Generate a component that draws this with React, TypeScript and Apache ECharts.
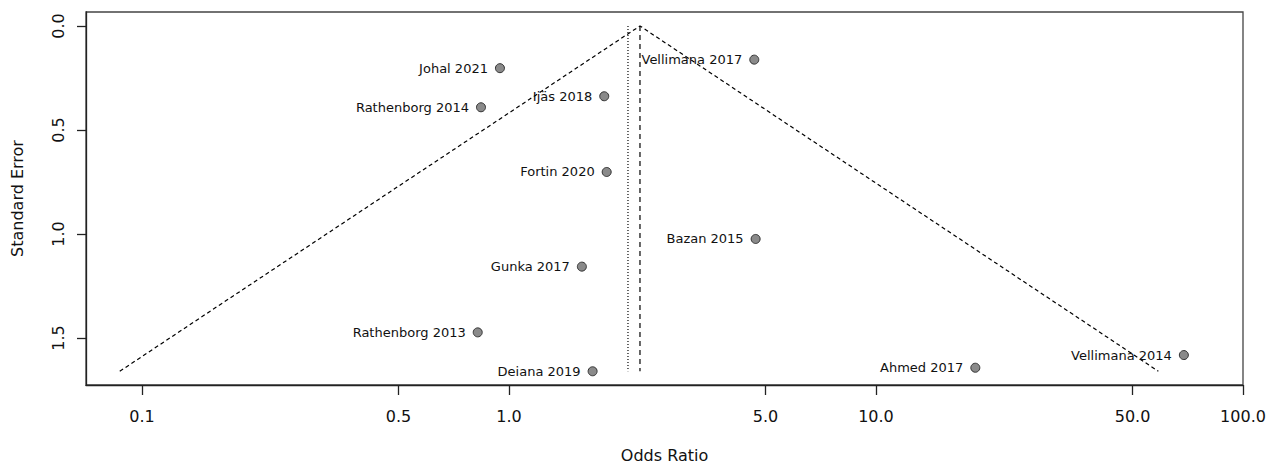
import React, { useEffect, useRef } from "react";
import * as echarts from "echarts";

// Study labels, odds ratios and standard errors
const studies = [
  "Johal 2021", "Rathenborg 2014", "Ijäs 2018", "Vellimana 2017", "Fortin 2020",
  "Bazan 2015", "Gunka 2017", "Rathenborg 2013", "Deiana 2019", "Ahmed 2017", "Vellimana 2014",
];
const oddsRatios = [0.945, 0.839, 1.818, 4.66, 1.846, 4.70, 1.58, 0.822, 1.69, 18.65, 69.0];
const stdErrors = [0.203, 0.391, 0.338, 0.162, 0.702, 1.024, 1.157, 1.473, 1.660, 1.643, 1.582];

// Funnel (pseudo confidence region)
const funnelOR = [0.087, 2.275, 58.8];
const funnelSE = [1.66, 0, 1.66];
const pooledOR = 2.275;   // dashed vertical
const fixedOR = 2.11;     // dotted vertical
const seRange = [0, 1.66];

const xTicks = [0.1, 0.5, 1.0, 5.0, 10.0, 50.0, 100.0];
const yTicks = [0, 0.5, 1.0, 1.5];
const xMin = 0.0704;
const xMax = 100;
const yMin = -0.067;
const yMax = 1.726;

const FONT = "DejaVu Sans";

export default function App() {
  const ref = useRef<HTMLDivElement>(null);
  useEffect(() => {
    if (!ref.current) return;
    const chart = echarts.init(ref.current, null, { renderer: "svg" });
    const lg = (v: number) => Math.log10(v);
    chart.setOption({
      animation: false,
      backgroundColor: "#ffffff",
      textStyle: { fontFamily: FONT },
      grid: {
        left: 86, right: 37, top: 12, bottom: 79,
        outerBoundsMode: "none",
        containLabel: false,
        show: true, borderColor: "#444", borderWidth: 1.3, backgroundColor: "transparent",
      },
      xAxis: {
        type: "value",
        min: lg(xMin),
        max: lg(xMax),
        name: "Odds Ratio",
        nameLocation: "middle",
        nameGap: 62,
        nameTextStyle: { fontSize: 16, color: "#111", fontFamily: FONT },
        axisLine: { show: true, onZero: false, lineStyle: { color: "#222", width: 1.3 } },
        axisTick: { show: true, length: 10, customValues: xTicks.map(lg), lineStyle: { color: "#222", width: 1.3 } },
        axisLabel: {
          customValues: xTicks.map(lg),
          formatter: (v: number) => Math.pow(10, v).toFixed(1),
          fontSize: 16, color: "#111", margin: 23, fontFamily: FONT,
          showMinLabel: true, showMaxLabel: true,
        },
        splitLine: { show: false },
      },
      yAxis: {
        type: "value",
        inverse: true,
        min: yMin,
        max: yMax,
        name: "Standard Error",
        nameLocation: "middle",
        nameGap: 61,
        nameTextStyle: { fontSize: 16, color: "#111", fontFamily: FONT },
        axisLine: { show: true, onZero: false, lineStyle: { color: "#222", width: 1.3 } },
        axisTick: { show: true, length: 9, customValues: yTicks, lineStyle: { color: "#222", width: 1.3 } },
        axisLabel: {
          customValues: yTicks,
          rotate: 90,
          formatter: (v: number) => v.toFixed(1),
          fontSize: 16, color: "#111", margin: 20, fontFamily: FONT,
        },
        splitLine: { show: false },
      },
      series: [
        {
          type: "line",
          data: funnelOR.map((o, i) => [lg(o), funnelSE[i]]),
          symbol: "none",
          lineStyle: { color: "#000", width: 1.2, type: [4, 3] },
          silent: true,
          z: 2,
        },
        {
          type: "line",
          data: seRange.map((s) => [lg(pooledOR), s]),
          symbol: "none",
          lineStyle: { color: "#000", width: 1.2, type: [5, 4] },
          silent: true,
          z: 2,
        },
        {
          type: "line",
          data: seRange.map((s) => [lg(fixedOR), s]),
          symbol: "none",
          lineStyle: { color: "#000", width: 1.2, type: [1, 2] },
          silent: true,
          z: 2,
        },
        {
          type: "scatter",
          data: studies.map((n, i) => ({ name: n, value: [lg(oddsRatios[i]), stdErrors[i]] })),
          symbol: "circle",
          symbolSize: 9,
          itemStyle: { color: "#8a8a8a", borderColor: "#333", borderWidth: 1, opacity: 1 },
          label: {
            show: true,
            position: "left",
            distance: 7,
            formatter: (p: any) => p.name,
            fontSize: 13,
            color: "#111",
            fontFamily: FONT,
          },
          z: 3,
        },
      ],
    });
    return () => chart.dispose();
  }, []);
  return (
    <div
      ref={ref}
      style={{ position: "fixed", left: 0, top: 0, width: 1280, height: 464, background: "#fff" }}
    />
  );
}
